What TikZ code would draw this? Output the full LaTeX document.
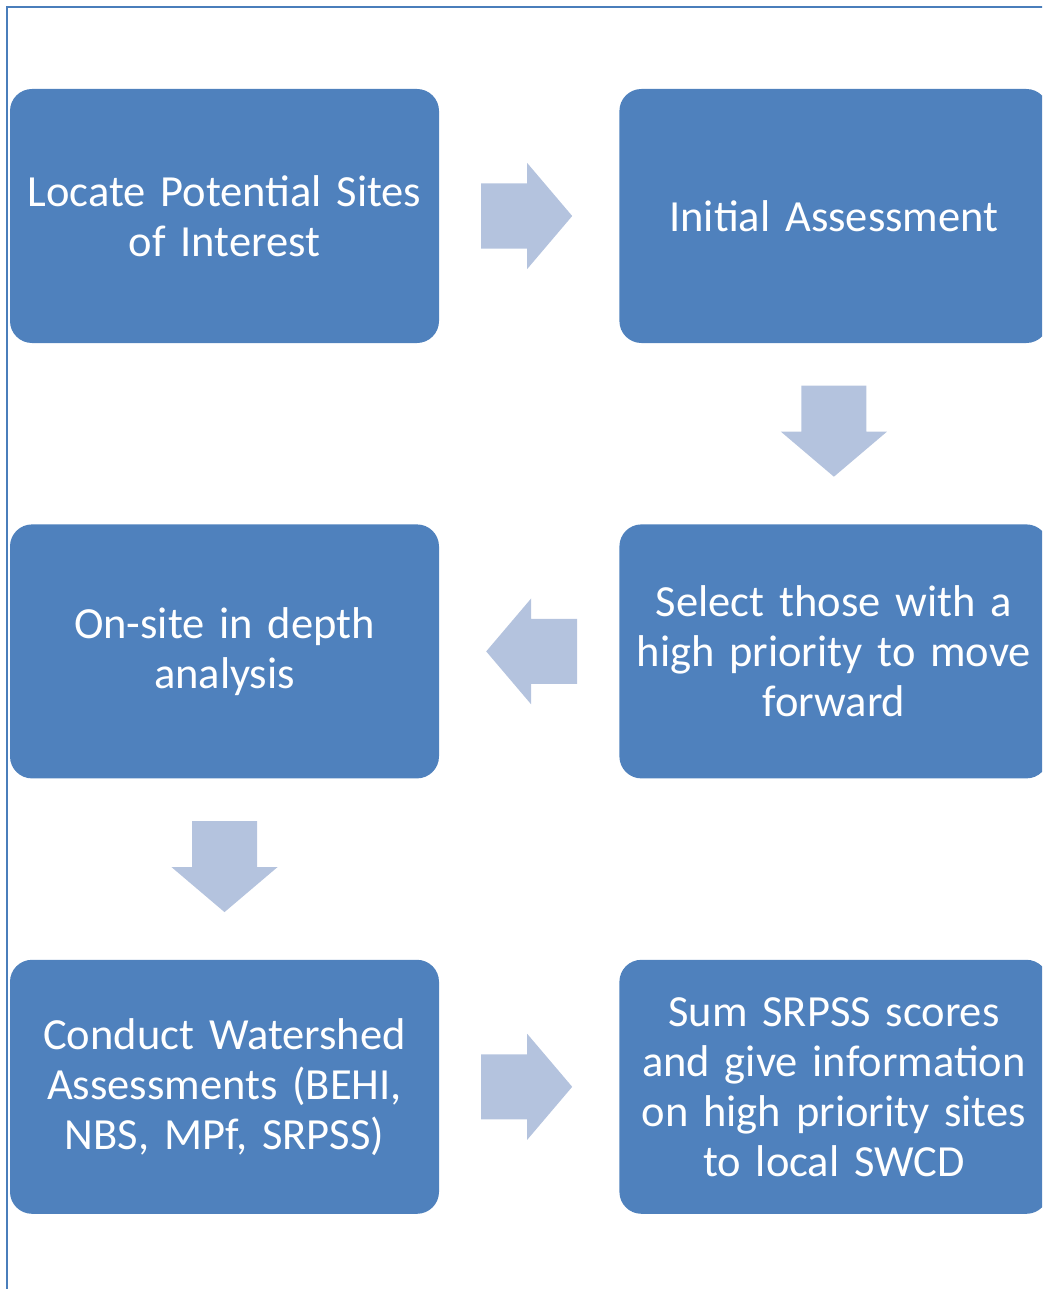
\documentclass[tikz,border=0pt]{standalone}
\usepackage{fontspec}
\setmainfont[WordSpace=0.85]{Carlito}
\usepackage{xcolor}
\usetikzlibrary{positioning,calc}

\definecolor{boxblue}{HTML}{4F81BD}
\definecolor{arrowblue}{HTML}{B4C3DE}
\definecolor{frameblue}{HTML}{4A7EBB}

\tikzset{
    stepbox/.style={rectangle, rounded corners=22pt, fill=boxblue, text=white,
        minimum width=429pt, minimum height=254pt, text width=425pt, align=center,
        inner sep=0pt, font=\fontsize{44.5}{50}\selectfont},
    blockarrow/.pic={
        \fill[arrowblue] (-48,-32.5) -- (-2,-32.5) -- (-2,-53) -- (43,0)
            -- (-2,53) -- (-2,32.5) -- (-48,32.5) -- cycle;
    },
}

\begin{document}
\begin{tikzpicture}[x=1pt, y=-1pt, node distance=181pt and 180pt]
    \useasboundingbox (0,0) rectangle (1042,1289);
    \clip (0,0) rectangle (1042,1289);
    \draw[frameblue, line width=2pt] (7,1290) -- (7,7) -- (1043,7);

    % boxes
    \node[stepbox] (locate) at (224.5,216) {Locate Potential Sites\\of Interest};
    \node[stepbox, right=of locate] (initial) {Initial Assessment};
    \node[stepbox, below=of initial] (select) {Select those with a\\high priority to move\\forward};
    \node[stepbox, below=of locate] (onsite) {On-site in depth\\analysis};
    \node[stepbox, below=of onsite] (conduct) {Conduct Watershed\\Assessments (BEHI,\\NBS, MPf, SRPSS)};
    \node[stepbox, right=of conduct] (sum) {Sum SRPSS scores\\and give information\\on high priority sites\\to local SWCD};

    % block arrows
    \pic at ($(locate.east)!0.5!(initial.west)$) {blockarrow};
    \pic[rotate=-90] at ($(initial.south)!0.5!(select.north)$) {blockarrow};
    \pic[rotate=180] at ($(select.west)!0.5!(onsite.east)$) {blockarrow};
    \pic[rotate=-90] at ($(onsite.south)!0.5!(conduct.north)$) {blockarrow};
    \pic at ($(conduct.east)!0.5!(sum.west)$) {blockarrow};
\end{tikzpicture}
\end{document}
